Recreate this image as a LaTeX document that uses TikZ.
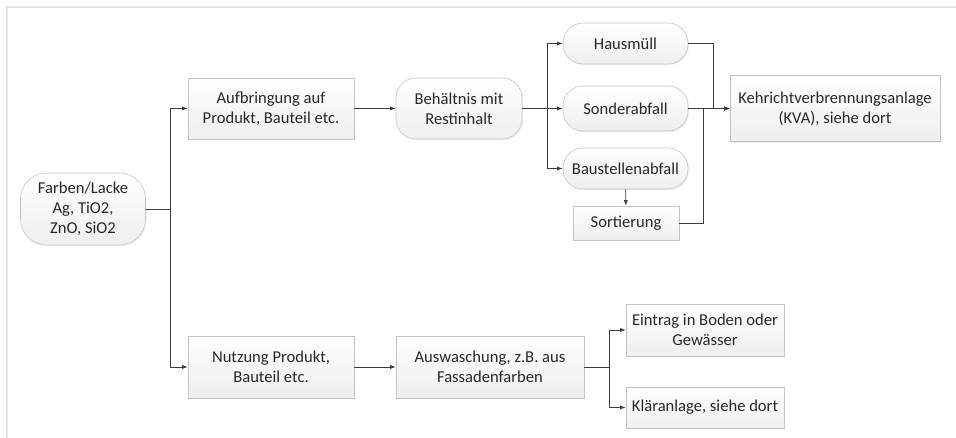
\documentclass[tikz,border=0pt]{standalone}
\usepackage{fontspec}
\setmainfont{Carlito}
\usetikzlibrary{arrows.meta,shadows}
\definecolor{boxgray}{RGB}{195,195,195}
\definecolor{linegray}{RGB}{60,60,60}
\definecolor{textgray}{RGB}{40,40,40}

\begin{document}
\begin{tikzpicture}[x=0.025cm,y=-0.025cm,font=\fontsize{11.8}{14.2}\selectfont]
    \tikzset{
        box/.style={draw=boxgray, top color=white, bottom color=gray!13, text=textgray, align=center, inner sep=2pt,
            drop shadow={opacity=0.12, shadow xshift=0.8pt, shadow yshift=-0.8pt}},
        rbox/.style={box, rounded corners=0.5cm},
        flow/.style={draw=linegray, line width=0.6pt, -{Latex[length=4pt,width=3pt]}},}
    \useasboundingbox (0,0) rectangle (956,438);
    \draw [gray!22, line width=1.2pt] (7,438) -- (7,7) -- (956,7);
    % Quelle
    \node [rbox, rounded corners=0.65cm, minimum width=3.125cm, minimum height=1.8cm] (farben) at (83,209) {Farben/Lacke\\Ag, TiO2,\\ZnO, SiO2};
    % oberer Pfad
    \node [box, minimum width=4.15cm, minimum height=1.525cm] (aufbr) at (271,108.5) {Aufbringung auf\\Produkt, Bauteil etc.};
    \node [rbox, minimum width=3.15cm, minimum height=1.525cm] (behaelt) at (459,108.5) {Behältnis mit\\Restinhalt};
    \node [rbox, minimum width=3.125cm, minimum height=1.025cm] (haus) at (625.5,43.5) {Hausmüll};
    \node [rbox, minimum width=3.125cm, minimum height=1.125cm] (sonder) at (625.5,108.5) {Sonderabfall};
    \node [rbox, minimum width=3.125cm, minimum height=1.025cm] (baust) at (625.5,168.5) {Baustellenabfall};
    \node [box, minimum width=2.65cm, minimum height=0.85cm] (sort) at (626,223) {Sortierung};
    \node [box, minimum width=5.25cm, minimum height=1.65cm] (kva) at (835,108.5) {Kehrichtverbrennungsanlage\\(KVA), siehe dort};
    % unterer Pfad
    \node [box, minimum width=4.15cm, minimum height=1.55cm] (nutz) at (271,367) {Nutzung Produkt,\\Bauteil etc.};
    \node [box, minimum width=4.7cm, minimum height=1.55cm] (ausw) at (490,367) {Auswaschung, z.B. aus\\Fassadenfarben};
    \node [box, minimum width=3.95cm, minimum height=1.3cm] (eintrag) at (705,330) {Eintrag in Boden oder\\Gewässer};
    \node [box, minimum width=3.95cm, minimum height=1.025cm] (klaer) at (705,407.5) {Kläranlage, siehe dort};
    % Verbindungen
    \draw [flow] (farben.east) -- ++(25,0) |- (aufbr.west);
    \draw [flow] (farben.east) -- ++(25,0) |- (nutz.west);
    \draw [flow] (aufbr) -- (behaelt);
    \draw [flow] (behaelt.east) -- ++(25,0) |- (haus.west);
    \draw [flow] (behaelt.east) -- ++(25,0) |- (sonder.west);
    \draw [flow] (behaelt.east) -- ++(25,0) |- (baust.west);
    \draw [flow] (baust) -- (sort);
    \draw [flow] (sonder) -- (kva);
    \draw [flow] (haus.east) -- ++(25,0) |- (kva.west);
    \draw [flow] (sort.east) -- ++(24,0) |- (kva.west);
    \draw [flow] (nutz) -- (ausw);
    \draw [flow] (ausw.east) -- ++(25,0) |- (eintrag.west);
    \draw [flow] (ausw.east) -- ++(25,0) |- (klaer.west);
\end{tikzpicture}
\end{document}
